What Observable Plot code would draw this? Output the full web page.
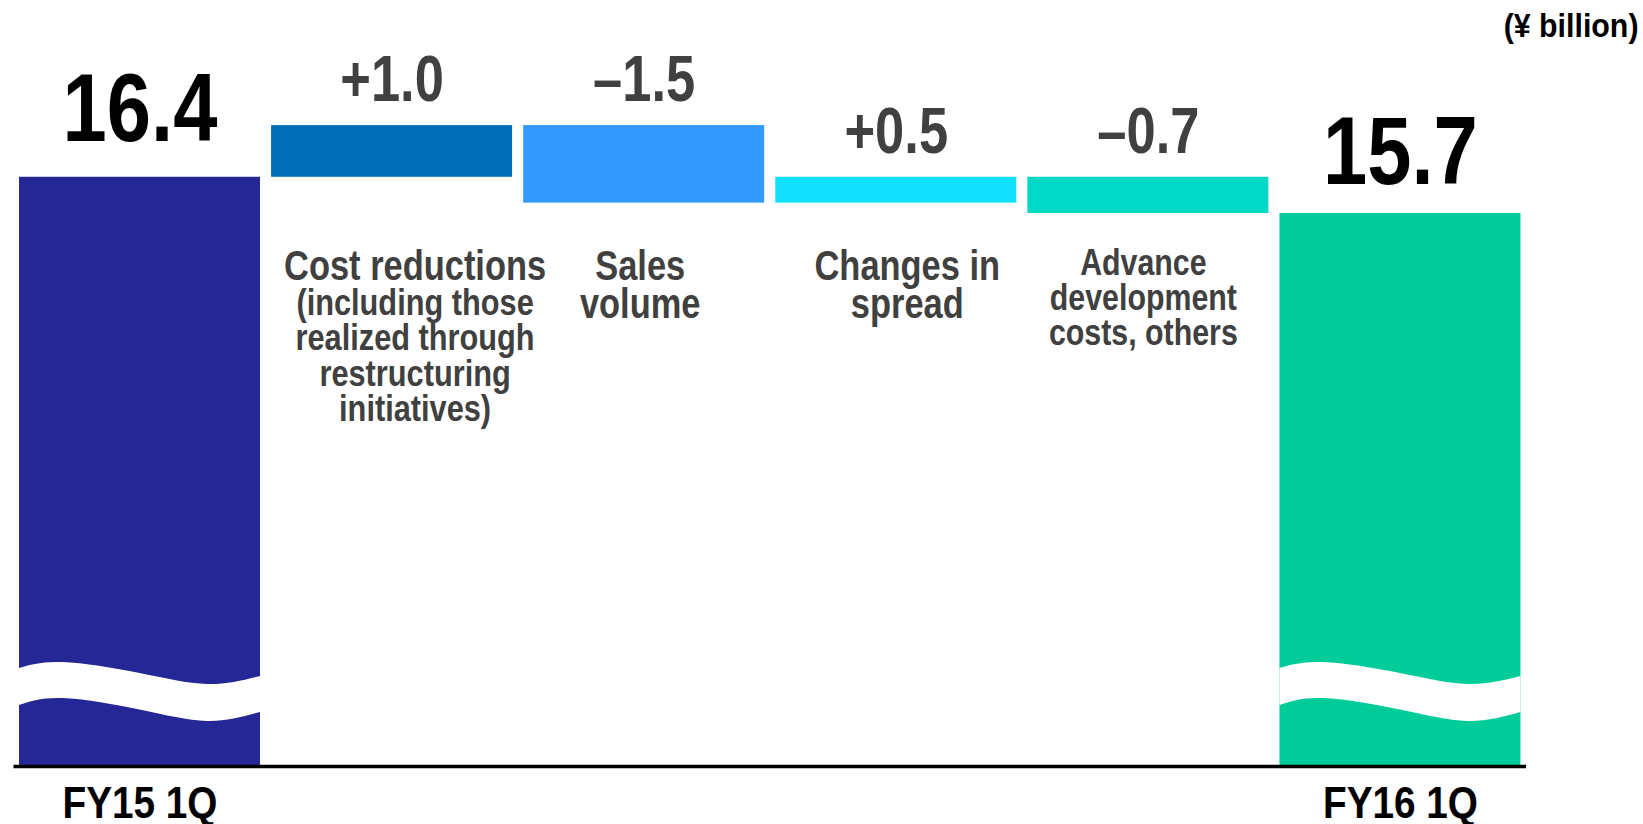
<!DOCTYPE html>
<html>
<head>
<meta charset="utf-8">
<script src="https://cdn.jsdelivr.net/npm/d3@7"></script>
<script src="https://cdn.jsdelivr.net/npm/@observablehq/plot@0.6"></script>
<style>
  html, body { margin: 0; padding: 0; background: #fff; }
  #chart svg { display: block; }
</style>
</head>
<body>
<div id="chart"></div>
<script>
// ---- data ----
const categories = ["FY15 1Q", "Cost reductions", "Sales\nvolume", "Changes in\nspread", "Advance\ndevelopment\ncosts, others", "FY16 1Q"];
const categoryNotes = ["", "(including those\nrealized through\nrestructuring\ninitiatives)", "", "", "", ""];
const kinds = ["total", "delta", "delta", "delta", "delta", "total"];
const values = [16.4, 1.0, -1.5, 0.5, -0.7, 15.7];
const valueLabels = ["16.4", "+1.0", "–1.5", "+0.5", "–0.7", "15.7"];
const unitLabel = "(¥ billion)";
const axisBreakBase = 5; // value at the (broken) baseline
// break-marker shape (fraction across bar, upper edge, lower edge) in value units
const waveFraction = [0, 0.18, 0.5, 0.78, 1];
const waveUpper = [6.896, 7.012, 6.799, 6.586, 6.741];
const waveLower = [6.180, 6.316, 6.093, 5.871, 6.045];

// ---- styles ----
const colors = ["#262796", "#006db9", "#3399ff", "#13dfff", "#00d9c6", "#00cc9a"];
const half = 0.478;
const FONT = "'Liberation Sans', Arial, sans-serif";
const valueDy = [-36, -25, -25, -24, -24, -29];
const labelDx = [0, 23, -4, 11, -5, 0];

// ---- derived table ----
let running = 0;
const bars = values.map((v, i) => {
  let y1, y2;
  if (kinds[i] === "total") { y1 = axisBreakBase; y2 = v; running = v; }
  else { y1 = running; y2 = running + v; running = y2; }
  return {i, cat: categories[i], y1, y2, top: Math.max(y1, y2), color: colors[i],
          label: valueLabels[i], kind: kinds[i], dy: valueDy[i]};
});
const wave = [];
bars.filter(d => d.kind === "total").forEach(d => {
  waveFraction.forEach((f, k) => wave.push({bar: d.i, x: d.i - half + f * 2 * half, y1: waveLower[k], y2: waveUpper[k]}));
});

const totals = bars.filter(d => d.kind === "total");
const deltas = bars.filter(d => d.kind === "delta");

const chart = Plot.plot({
  width: 1643,
  height: 824,
  marginTop: 0,
  marginBottom: 58,
  marginLeft: 13.45,
  marginRight: 117,
  x: {domain: [-0.5, 5.5], axis: null},
  y: {domain: [axisBreakBase, 19.82], axis: null},
  color: {type: "identity"},
  style: {fontFamily: FONT, fontWeight: "bold", background: "#fff", overflow: "visible"},
  marks: [
    Plot.rect(bars, {x1: d => d.i - half, x2: d => d.i + half, y1: "y1", y2: "y2", fill: "color"}),
    Plot.areaY(wave, {x: "x", y1: "y1", y2: "y2", z: "bar", fill: "white", curve: "natural"}),
    Plot.ruleY([axisBreakBase], {stroke: "#000", strokeWidth: 3.5}),
    // delta values
    ...deltas.map(d => Plot.text([d], {x: "i", y: "top", text: "label", dy: d.dy, lineAnchor: "bottom", fontSize: 64, fill: "#404040", ariaDescription: "sx-0.82"})),
    // total values
    ...totals.map(d => Plot.text([d], {x: "i", y: "top", text: "label", dy: d.dy, lineAnchor: "bottom", fontSize: 97, fill: "#000", ariaDescription: "sx-0.82"})),
    // category labels for the changes
    ...[1, 2, 3].map(i => Plot.text([categories[i]], {x: [i], frameAnchor: "top", dx: labelDx[i], dy: 253, lineAnchor: "top", lineHeight: 38 / 42, fontSize: 42, fill: "#404040", ariaDescription: "sx-0.82"})),
    Plot.text([categoryNotes[1]], {x: [1], frameAnchor: "top", dx: labelDx[1], dy: 289.5, lineAnchor: "top", lineHeight: 35.3 / 37.5, fontSize: 37.5, fill: "#404040", ariaDescription: "sx-0.82"}),
    Plot.text([categories[4]], {x: [4], frameAnchor: "top", dx: labelDx[4], dy: 250, lineAnchor: "top", lineHeight: 35 / 37, fontSize: 37, fill: "#404040", ariaDescription: "sx-0.82"}),
    // total category labels under the axis
    Plot.text(totals, {x: "i", y: axisBreakBase, text: "cat", dy: 51, lineAnchor: "bottom", fontSize: 44, fill: "#000", ariaDescription: "sx-0.88"}),
    // unit
    Plot.text([unitLabel], {frameAnchor: "top-right", dx: 112, dy: 36, lineAnchor: "bottom", textAnchor: "end", fontSize: 33, fill: "#000", ariaDescription: "sx-0.92"})
  ]
});
// condense the bold sans text horizontally (narrow typeface look)
chart.querySelectorAll("g[aria-description^='sx-']").forEach(g => {
  const s = +g.getAttribute("aria-description").slice(3);
  g.querySelectorAll("text").forEach(t => {
    const tr = t.getAttribute("transform") || "";
    t.setAttribute("transform", `${tr} scale(${s},1)`.trim());
  });
});
document.getElementById("chart").appendChild(chart);
</script>
</body>
</html>
